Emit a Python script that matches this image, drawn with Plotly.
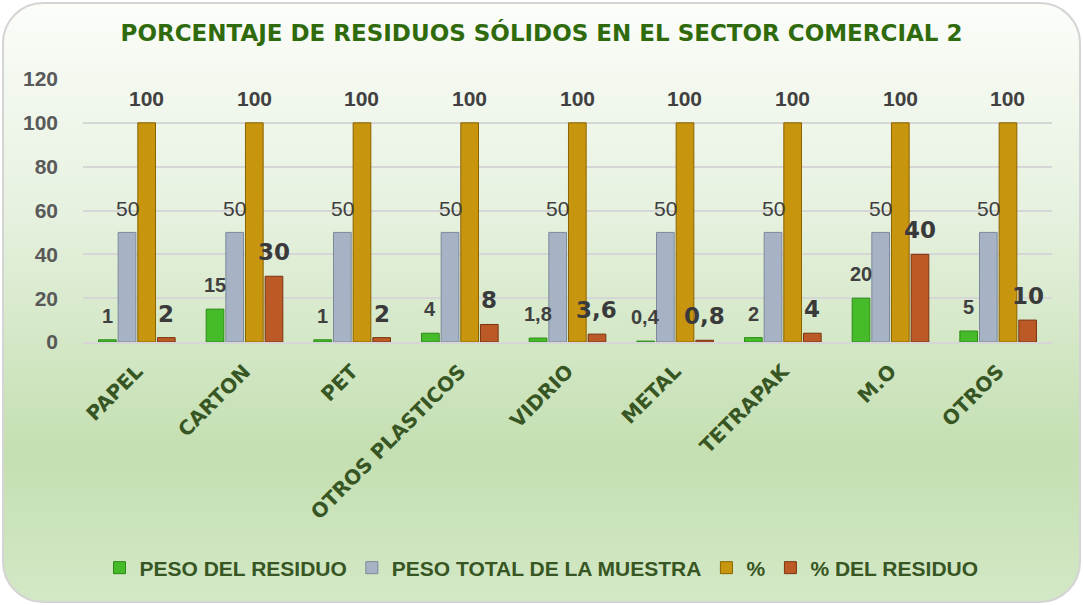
import base64
import plotly.graph_objects as go

categorias = ["PAPEL", "CARTON", "PET", "OTROS PLASTICOS", "VIDRIO", "METAL", "TETRAPAK", "M.O", "OTROS"]
peso_residuo = [1, 15, 1, 4, 1.8, 0.4, 2, 20, 5]
peso_total = [50, 50, 50, 50, 50, 50, 50, 50, 50]
porcentaje = [100, 100, 100, 100, 100, 100, 100, 100, 100]
pct_residuo = [2, 30, 2, 8, 3.6, 0.8, 4, 40, 10]
y_ticks = [0, 20, 40, 60, 80, 100, 120]

W, H = 1083, 605
ML, MR, MT, MB = 83, 31, 79, 263
BARGAP, GROUPGAP = 0.27, 0.1


def fmt(v):
    s = f"{v:g}"
    return s.replace(".", ",")


series = [
    ("PESO DEL RESIDUO", peso_residuo, "#45bb29", "#2c8a18",
     dict(family="Liberation Sans, Arial", size=20, color="#404040", weight="bold")),
    ("PESO TOTAL DE LA MUESTRA", peso_total, "#a7b3c4", "#7d889a",
     dict(family="Liberation Sans, Arial", size=21, color="#404040")),
    ("%", porcentaje, "#c8950f", "#8a6300",
     dict(family="Liberation Sans, Arial", size=21, color="#404040", weight="bold")),
    ("% DEL RESIDUO", pct_residuo, "#bb5a27", "#7a3510",
     dict(family="DejaVu Sans, Arial Black", size=23, color="#3a3a3a", weight="bold")),
]

fig = go.Figure()
for name, vals, col, edge, _ in series:
    fig.add_trace(go.Bar(
        x=categorias, y=vals, name=name,
        marker=dict(color=col, line=dict(color=edge, width=1)),
        hoverinfo="skip",
    ))

# data labels as annotations, aligned on their bars
plot_w = W - ML - MR
cat_w = plot_w / len(categorias)
slot = cat_w * (1 - BARGAP) / len(series)
annotations = []
for i, (name, vals, col, edge, font) in enumerate(series):
    xs = (i - (len(series) - 1) / 2) * slot
    for c, v in zip(categorias, vals):
        annotations.append(dict(
            x=c, y=v, xref="x", yref="y", text=fmt(v),
            showarrow=False, xshift=xs, yshift=24, yanchor="middle",
            font=font,
        ))

# background: gradient with rounded border
svg = f'''<svg xmlns="http://www.w3.org/2000/svg" width="{W}" height="{H}" viewBox="0 0 {W} {H}">
<defs><linearGradient id="g" x1="0" y1="0" x2="0" y2="1">
<stop offset="0" stop-color="#fbfdf9"/>
<stop offset="0.35" stop-color="#e6f1df"/>
<stop offset="0.75" stop-color="#c4dfb1"/>
<stop offset="1" stop-color="#d3e8c6"/>
</linearGradient></defs>
<rect x="3" y="3" width="{W-6}" height="{H-6}" rx="40" ry="40" fill="url(#g)" stroke="#d4d4d4" stroke-width="2"/>
</svg>'''
src = "data:image/svg+xml;base64," + base64.b64encode(svg.encode()).decode()
plot_h = H - MT - MB

fig.update_layout(
    width=W, height=H,
    margin=dict(l=ML, r=MR, t=MT, b=MB, autoexpand=False),
    paper_bgcolor="white", plot_bgcolor="rgba(0,0,0,0)",
    barmode="group", bargap=BARGAP, bargroupgap=GROUPGAP,
    images=[dict(source=src, xref="paper", yref="paper",
                 x=-ML / plot_w, y=1 + MT / plot_h,
                 sizex=W / plot_w, sizey=H / plot_h,
                 xanchor="left", yanchor="top", sizing="stretch", layer="below")],
    title=dict(text="PORCENTAJE DE RESIDUOS SÓLIDOS EN EL SECTOR COMERCIAL 2",
               x=0.5, xref="container", xanchor="center",
               y=1 - 33 / H, yref="container", yanchor="middle",
               font=dict(family="DejaVu Sans, Arial Black", size=23, color="#2f6b0c", weight="bold")),
    yaxis=dict(range=[0, 120], tickvals=y_ticks, showgrid=True, gridcolor="#d6d6d6",
               gridwidth=1.5, zeroline=False, showline=False,
               tickfont=dict(family="Liberation Sans, Arial", size=21, color="#595959", weight="bold"),
               ticklabelstandoff=24, ticks=""),
    xaxis=dict(tickangle=-45, showgrid=False, showline=True, linecolor="#d6d6d6", linewidth=1.5,
               tickfont=dict(family="DejaVu Sans, Arial Black", size=20, color="#375623", weight="bold"),
               ticklabelstandoff=8, ticks=""),
    legend=dict(orientation="h", x=0.5, xref="container", xanchor="center",
                y=1 - 568 / H, yref="container", yanchor="middle",
                bgcolor="rgba(0,0,0,0)",
                font=dict(family="Liberation Sans Narrow, Arial Narrow, Liberation Sans", size=21,
                          color="#375623", weight="bold"),
                itemclick=False, traceorder="normal"),
    annotations=annotations,
    showlegend=True,
)

fig.write_html("out.html", config={"displayModeBar": False},
               post_script="document.body.style.margin='0';document.body.style.padding='0';")
